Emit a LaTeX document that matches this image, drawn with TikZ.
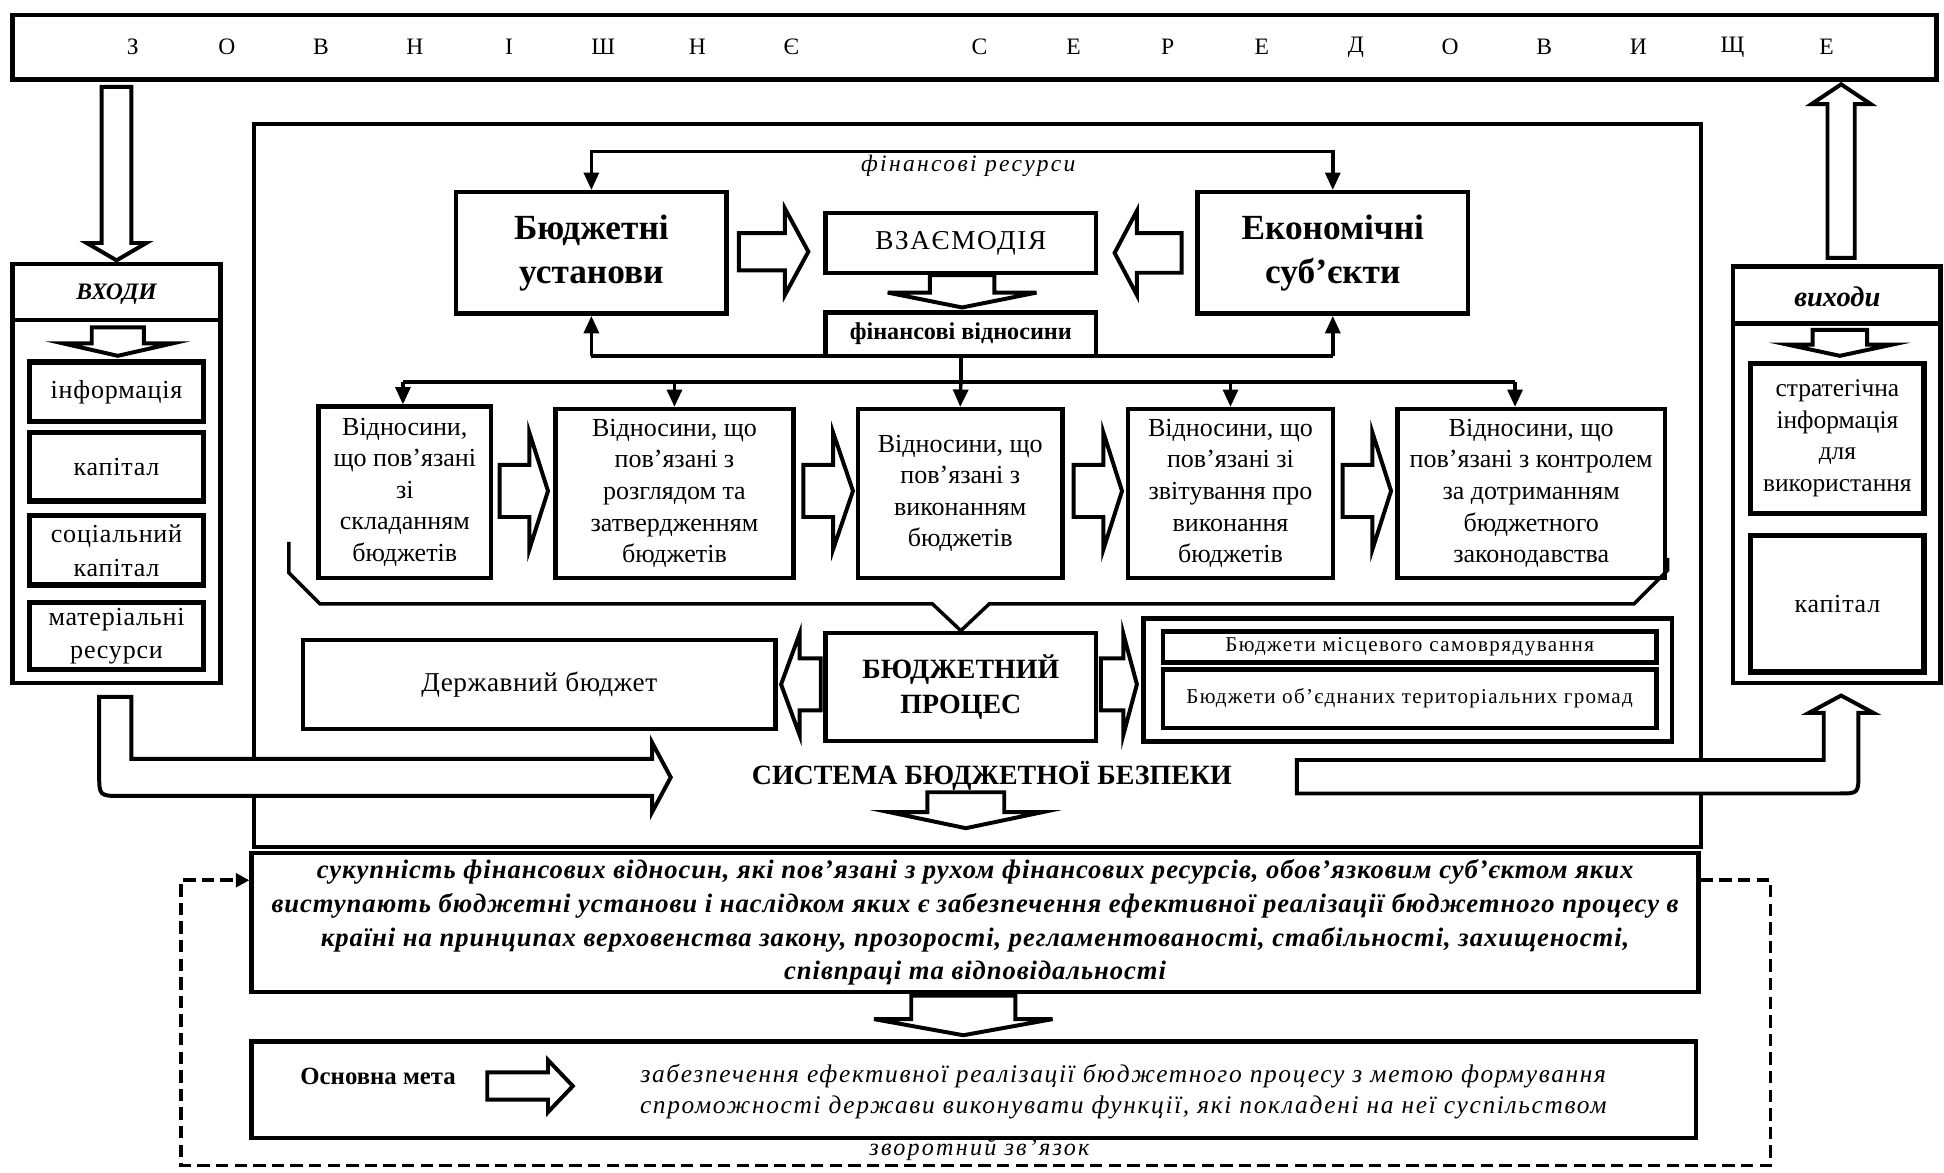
\documentclass[tikz,border=0pt]{standalone}
\usepackage{fontspec}
\setmainfont{Liberation Serif}
\usetikzlibrary{arrows.meta}

% hollow block arrows: horizontal (shaft start, head base, tip, centre y, half shaft, half head)
\newcommand\blockh[6]{%
  \draw[hollow] (#1,{#4-#5}) -- (#2,{#4-#5}) -- (#2,{#4-#6}) -- (#3,#4)
    -- (#2,{#4+#6}) -- (#2,{#4+#5}) -- (#1,{#4+#5}) -- cycle;}
% vertical variant (shaft start, head base, tip, centre x, half shaft, half head)
\newcommand\blockv[6]{%
  \draw[hollow] ({#4-#5},#1) -- ({#4-#5},#2) -- ({#4-#6},#2) -- (#4,#3)
    -- ({#4+#6},#2) -- ({#4+#5},#2) -- ({#4+#5},#1) -- cycle;}

\newcommand\fs[2]{\fontsize{#1}{#2}\selectfont}
\newcommand\spaced[1]{\addfontfeature{LetterSpace=#1}}

\begin{document}
\begin{tikzpicture}[x=1pt,y=-1pt,
  box/.style={draw, line width=3.6pt, fill=white, rectangle, inner sep=0pt,
    align=center, font=\fs{21}{25.5}},
  subbox/.style={box, line width=4.4pt},
  hollow/.style={draw, line width=3.2pt, fill=white, line join=miter},
  link/.style={line width=2.8pt},
  conn/.style={link, -{Triangle[length=14pt,width=12pt]}},
  envletter/.style={font=\fs{19}{22}, inner sep=0pt},
  feedback/.style={line width=3pt, dash pattern=on 10pt off 5pt,
    -{Triangle[length=11pt,width=11pt]}}]

\useasboundingbox (0,0) rectangle (1568,946);

% ---------- external environment ----------
\node[box, minimum width=1552pt, minimum height=52pt] (env) at (786,38) {};
\foreach \ch/\k [count=\i] in {З/0,О/1,В/2,Н/3,І/4,Ш/5,Н/6,Є/7,С/9,Е/10,Р/11,Е/12,Д/13,О/14,В/15,И/16,Щ/17,Е/18}
  \node[envletter] (env-\i) at ({107+\k*75.9},38) {\ch};

% ---------- budget security system frame ----------
\node[box, minimum width=1167pt, minimum height=583pt] (sys) at (788.5,391.5) {};

% ---------- inputs ----------
\node[box, minimum width=168pt, minimum height=338pt] (inp) at (94,382) {};
\draw[line width=3.6pt] (inp.west |- 0,258) -- (inp.east |- 0,258);
\node[font=\fs{19}{20}\bfseries\itshape] (inp-title) at (94,237) {ВХОДИ};
\blockv{264}{277}{287}{95}{21}{44}
\node[subbox, minimum width=140pt, minimum height=48pt, font=\fs{21}{27}\spaced{3}] (in1) at (94,316) {інформація};
\node[subbox, minimum width=140pt, minimum height=55pt, font=\fs{21}{27}\spaced{3}] (in2) at (94,376.5) {капітал};
\node[subbox, minimum width=140pt, minimum height=56pt, font=\fs{21}{27}\spaced{3}] (in3) at (94,444) {соціальний\\капітал};
\node[subbox, minimum width=140pt, minimum height=54pt, font=\fs{21}{27}\spaced{3}] (in4) at (94,513) {матеріальні\\ресурси};
\blockv{70}{196}{210}{94}{12}{24}

% ---------- outputs ----------
\node[box, minimum width=167pt, minimum height=336pt] (outb) at (1481.5,383) {};
\draw[line width=3.6pt] (outb.west |- 0,261) -- (outb.east |- 0,261);
\node[font=\fs{23}{24}\bfseries\itshape] (out-title) at (1482,239) {виходи};
\blockv{266}{278}{287}{1484}{22}{42}
\node[subbox, minimum width=140pt, minimum height=121pt, font=\fs{20.5}{25.5}] (out1) at (1482,353.5) {\raisebox{-3pt}{\parbox{130pt}{\centering стратегічна\\інформація\\для\\використання}}};
\node[subbox, minimum width=140pt, minimum height=110pt, font=\fs{21}{25}\spaced{3}] (out2) at (1482,487) {капітал};
\blockv{208}{84}{68}{1485}{11}{24}

% ---------- participants and interaction ----------
\node[box, minimum width=218pt, minimum height=98pt, font=\fs{28.5}{35}\bfseries] (bu) at (477,204) {Бюджетні\\установи};
\node[box, minimum width=218pt, minimum height=98pt, font=\fs{28.5}{35}\bfseries] (econ) at (1075,204) {Економічні\\суб’єкти};
\node[box, minimum width=218pt, minimum height=48pt, font=\fs{22}{24}\spaced{6}] (inter) at (775,196) {ВЗАЄМОДІЯ};
\node[box, minimum width=218pt, minimum height=35pt, font=\fs{19.5}{20}\bfseries] (fv) at (775,269.5) {фінансові відносини};
\blockh{596}{633}{652}{203}{15}{35}
\blockh{953}{917}{899}{204}{16}{34}
\blockv{222}{236}{248}{776}{26}{60}

% financial resources loop
\coordinate (fr-l) at (477,122);
\coordinate (fr-r) at (1075,122);
\draw[conn] (fr-r) -- (fr-l) -- (bu.north);
\draw[conn] (fr-l) -- (fr-r) -- (econ.north);
\node[font=\fs{19}{22}\itshape\spaced{10}] (fr-label) at (781,134) {фінансові ресурси};

% financial relations loop
\coordinate (fv-l) at (477,287);
\coordinate (fv-r) at (1075,287);
\draw[link] (fv-l) -- (fv-r);
\draw[conn] (fv-l) -- (bu.south);
\draw[conn] (fv-r) -- (econ.south);

% ---------- budget process stages ----------
\node[box, minimum width=139pt, minimum height=138pt] (b1) at (326.5,397) {Відносини,\\що пов’язані\\зі\\складанням\\бюджетів};
\node[box, minimum width=192pt, minimum height=136pt] (b2) at (544,398) {Відносини, що\\пов’язані з\\розглядом та\\затвердженням\\бюджетів};
\node[box, minimum width=165pt, minimum height=136pt] (b3) at (774.5,398) {Відносини, що\\пов’язані з\\виконанням\\бюджетів};
\node[box, minimum width=165pt, minimum height=136pt] (b4) at (992.5,398) {Відносини, що\\пов’язані зі\\звітування про\\виконання\\бюджетів};
\node[box, minimum width=216pt, minimum height=136pt] (b5) at (1235,398) {Відносини, що\\пов’язані з контролем\\за дотриманням\\бюджетного\\законодавства};

\coordinate (dist) at (775,308);
\coordinate (d1) at (325,308);
\coordinate (d5) at (1222,308);
\draw[link] (fv.south) -- (dist);
\draw[link] (d1) -- (d5);
\draw[conn] (d1) -- (d1 |- b1.north);
\draw[conn] (b2.north |- dist) -- (b2.north);
\draw[conn] (dist) -- (b3.north);
\draw[conn] (b4.north |- dist) -- (b4.north);
\draw[conn] (d5) -- (d5 |- b5.north);

\blockh{403}{427}{442}{396}{21}{47}
\blockh{648}{672}{688}{396}{21}{47}
\blockh{866}{890}{905}{396}{21}{47}
\blockh{1083}{1107}{1122}{396}{21}{47}

% ---------- budget process ----------
\node[box, minimum width=218pt, minimum height=87pt, font=\fs{22.5}{28}\bfseries] (bp) at (775,554) {БЮДЖЕТНИЙ\\ПРОЦЕС};
\draw[link] (233,437) -- (233,462) -- (258,487) -- (752,487) -- (bp.north) -- (798,487)
  -- (1318,487) -- (1345,460) -- (1345,450);
\node[box, minimum width=381pt, minimum height=72pt, font=\fs{22}{25}\spaced{2}] (db) at (435,552) {Державний бюджет};
\node[box, minimum width=426pt, minimum height=99pt] (loc) at (1135.5,548.5) {};
\node[box, minimum width=398pt, minimum height=25pt, font=\fs{17}{20}\spaced{7}] (loc1) at (1137,522) {Бюджети місцевого самоврядування};
\node[box, minimum width=398pt, minimum height=47pt, font=\fs{17}{20}\spaced{6}] (loc2) at (1137,563.5) {Бюджети об’єднаних територіальних громад};
\blockh{662}{645}{630}{552}{21}{41}
\blockh{888}{906}{917}{552}{21}{41}

\node[font=\fs{22.5}{24}\bfseries] (sbb) at (800,626) {СИСТЕМА БЮДЖЕТНОЇ БЕЗПЕКИ};
\blockv{639}{655}{668}{779}{31}{62}

% inputs enter the system, outputs leave it
\draw[hollow] (80,562) -- (106,562) -- (106,612) -- (526,612) -- (526,599) -- (541,627)
  -- (526,655) -- (526,642) -- (98,642) .. controls (80,642) .. (80,624) -- cycle;
\draw[hollow] (1046,613) -- (1471,613) -- (1471,575) -- (1459,575) -- (1485,561)
  -- (1511,575) -- (1499,575) -- (1499,623) .. controls (1499,640) .. (1483,640)
  -- (1046,640) -- cycle;

% ---------- definition and main goal ----------
\node[box, minimum width=1167pt, minimum height=112pt, font=\fs{21.5}{27.3}\bfseries\itshape\spaced{3.5}] (def) at (786.5,744)
  {сукупність фінансових відносин, які пов’язані з рухом фінансових ресурсів, обов’язковим суб’єктом яких\\
   виступають бюджетні установи і наслідком яких є забезпечення ефективної реалізації бюджетного процесу в\\
   країні на принципах верховенства закону, прозорості, регламентованості, стабільності, захищеності,\\
   співпраці та відповідальності};
\blockv{803}{822}{835}{777}{42}{72}

\node[box, minimum width=1165pt, minimum height=78pt] (goal) at (785.5,879) {};
\node[font=\fs{20}{20}\bfseries] (goal-t) at (305,868) {Основна мета};
\blockh{393}{442}{462}{876}{11}{21}
\node[font=\fs{20.5}{25}\itshape\spaced{6.5}, align=center] (goal-d) at (906,880.5)
  {забезпечення ефективної  реалізації  бюджетного процесу з метою формування\\
   спроможності держави виконувати функції, які покладені на неї суспільством};

% feedback loop
\draw[feedback] (def.east |- 0,710) -- (1428,710) -- (1428,940) -- (146,940) -- (146,710)
  -- (def.west |- 0,710);
\node[font=\fs{19.5}{22}\itshape\spaced{9}, inner sep=1pt] (fb-label) at (790,927) {зворотний зв’язок};

\end{tikzpicture}
\end{document}
